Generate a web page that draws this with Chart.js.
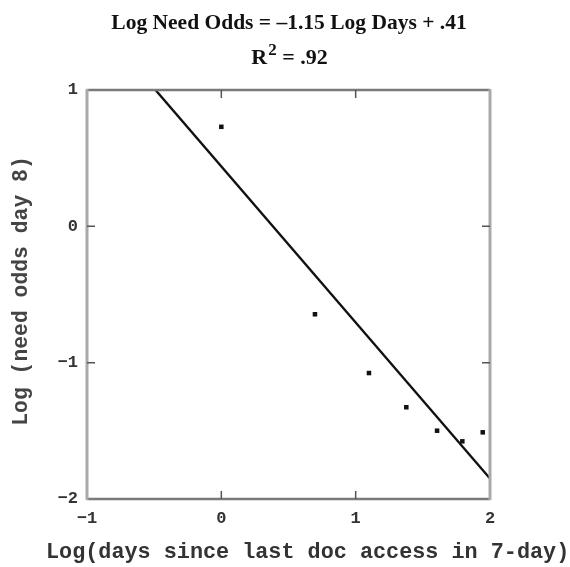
<!DOCTYPE html>
<html>
<head>
<meta charset="utf-8">
<script src="https://cdn.jsdelivr.net/npm/chart.js@4/dist/chart.umd.min.js"></script>
<style>
html,body{margin:0;padding:0;background:#fff;}
#wrap{width:570px;height:567px;}
</style>
</head>
<body>
<div id="wrap"><canvas id="c" width="570" height="567"></canvas></div>
<script>
// Data
const logDays = [0.0, 0.697, 1.099, 1.377, 1.606, 1.794, 1.946];
const logNeedOdds = [0.73, -0.645, -1.076, -1.327, -1.499, -1.577, -1.511];
const fitX = [-0.49, 2.0];
const fitY = [1.0, -1.85];
const xTicks = [-1, 0, 1, 2];
const yTicks = [1, 0, -1, -2];
const titleLine1 = "Log Need Odds = \u20131.15 Log Days + .41";
const titleLine2a = "R";
const titleLine2b = "2";
const titleLine2c = " = .92";
const xTitle = "Log(days since last doc access in 7-day)";
const yTitle = "Log (need odds day 8)";

const framePlugin = {
  id: 'frame',
  afterDatasetsDraw(chart) {
    const ctx = chart.ctx;
    const a = chart.chartArea;
    const xs = chart.scales.x, ys = chart.scales.y;
    ctx.save();
    ctx.strokeStyle = '#7a7a7a';
    ctx.lineWidth = 2.5;
    ctx.beginPath();
    ctx.moveTo(a.left, a.top); ctx.lineTo(a.right, a.top);
    ctx.moveTo(a.left, a.bottom); ctx.lineTo(a.right, a.bottom);
    ctx.stroke();
    ctx.strokeStyle = '#aaaaaa';
    ctx.lineWidth = 3;
    ctx.beginPath();
    ctx.moveTo(a.left, a.top - 1); ctx.lineTo(a.left, a.bottom + 1);
    ctx.moveTo(a.right, a.top - 1); ctx.lineTo(a.right, a.bottom + 1);
    ctx.stroke();
    ctx.strokeStyle = '#555';
    ctx.lineWidth = 1.5;
    ctx.beginPath();
    xTicks.slice(1, -1).forEach(v => {
      const px = xs.getPixelForValue(v);
      ctx.moveTo(px, a.top); ctx.lineTo(px, a.top + 8);
      ctx.moveTo(px, a.bottom); ctx.lineTo(px, a.bottom - 8);
    });
    yTicks.slice(1, -1).forEach(v => {
      const py = ys.getPixelForValue(v);
      ctx.moveTo(a.left, py); ctx.lineTo(a.left + 8, py);
      ctx.moveTo(a.right, py); ctx.lineTo(a.right - 8, py);
    });
    ctx.stroke();
    ctx.restore();
  },
  afterDraw(chart) {
    const ctx = chart.ctx;
    ctx.save();
    ctx.fillStyle = '#111';
    ctx.textBaseline = 'alphabetic';
    ctx.textAlign = 'center';
    ctx.font = "bold 21.5px 'Liberation Serif', 'Times New Roman', serif";
    ctx.fillText(titleLine1, 289, 29);
    const big = "bold 22px 'Liberation Serif', serif";
    const sup = "bold 17px 'Liberation Serif', serif";
    ctx.font = big;
    const wA = ctx.measureText(titleLine2a).width;
    const wC = ctx.measureText(titleLine2c).width;
    ctx.font = sup;
    const wB = ctx.measureText(titleLine2b).width;
    const total = wA + wB + wC;
    let x0 = 289 - total / 2;
    ctx.textAlign = 'left';
    ctx.font = big;
    ctx.fillText(titleLine2a, x0, 64);
    ctx.font = sup;
    ctx.fillText(titleLine2b, x0 + wA + 1, 55);
    ctx.font = big;
    ctx.fillText(titleLine2c, x0 + wA + wB + 1, 64);
    ctx.fillStyle = '#333';
    ctx.textBaseline = 'middle';
    ctx.textAlign = 'left';
    ctx.font = "bold 21.8px 'Liberation Mono', 'DejaVu Sans Mono', monospace";
    ctx.fillText(xTitle, 46, 553);
    ctx.fillStyle = '#444';
    ctx.font = "bold 21.4px 'Liberation Mono', 'DejaVu Sans Mono', monospace";
    ctx.translate(22, 291);
    ctx.rotate(-Math.PI / 2);
    ctx.textAlign = 'center';
    ctx.fillText(yTitle, 0, 0);
    ctx.restore();
  }
};

new Chart(document.getElementById('c'), {
  type: 'scatter',
  data: {
    datasets: [
      {
        type: 'line',
        data: fitX.map((x, i) => ({x: x, y: fitY[i]})),
        borderColor: '#111',
        borderWidth: 2.4,
        pointRadius: 0,
        fill: false,
        tension: 0
      },
      {
        data: logDays.map((x, i) => ({x: x, y: logNeedOdds[i]})),
        backgroundColor: '#111',
        borderColor: '#111',
        pointStyle: 'rect',
        pointRadius: 3.2,
        borderWidth: 0
      }
    ]
  },
  plugins: [framePlugin],
  options: {
    responsive: false,
    animation: false,
    devicePixelRatio: 1,
    layout: { padding: { left: 0, right: 80, top: 90, bottom: 0 } },
    plugins: { legend: { display: false }, title: { display: false }, tooltip: { enabled: false } },
    scales: {
      x: {
        type: 'linear', min: -1, max: 2,
        grid: { display: false, drawTicks: false },
        border: { display: false },
        afterBuildTicks: s => { s.ticks = xTicks.map(v => ({value: v})); },
        ticks: {
          padding: 10,
          color: '#333',
          font: { family: "'Liberation Mono', 'DejaVu Sans Mono', monospace", size: 17, weight: 'bold' },
          callback: v => (v < 0 ? '\u2212' + Math.abs(v) : String(v)),
          maxRotation: 0
        },
        afterFit: s => { s.height = 68; }
      },
      y: {
        type: 'linear', min: -2, max: 1,
        grid: { display: false, drawTicks: false },
        border: { display: false },
        afterBuildTicks: s => { s.ticks = yTicks.map(v => ({value: v})); },
        ticks: {
          padding: 9,
          color: '#333',
          font: { family: "'Liberation Mono', 'DejaVu Sans Mono', monospace", size: 17, weight: 'bold' },
          callback: v => (v < 0 ? '\u2212' + Math.abs(v) : String(v))
        },
        afterFit: s => { s.width = 87; }
      }
    }
  }
});
</script>
</body>
</html>
